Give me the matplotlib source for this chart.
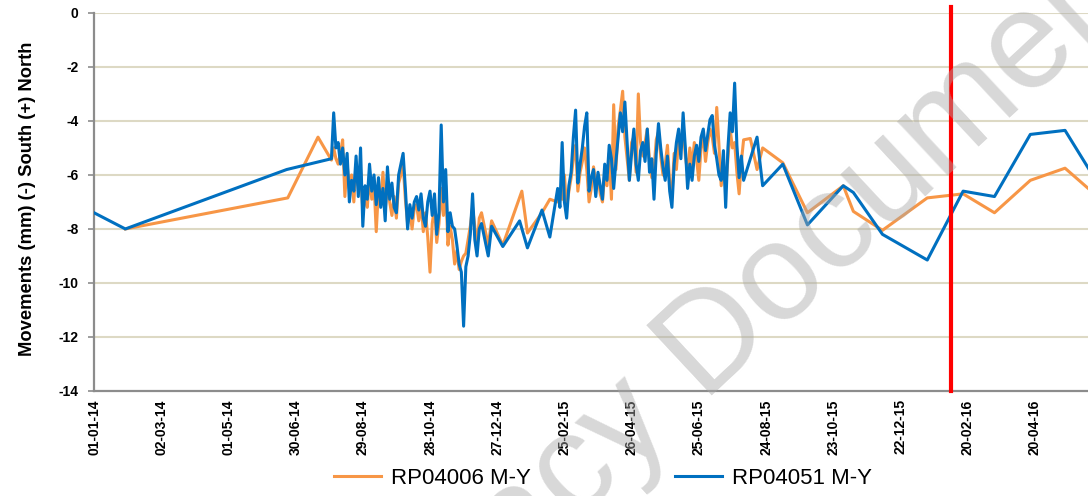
import numpy as np
import pandas as pd
import matplotlib
matplotlib.use("Agg")
import matplotlib.pyplot as plt

plt.rcParams['font.family'] = ['Liberation Sans', 'DejaVu Sans']
plt.rcParams['axes.unicode_minus'] = False

# x axis tick labels (every 60 days)
tick_labels = ['01-01-14', '02-03-14', '01-05-14', '30-06-14', '29-08-14', '28-10-14',
               '27-12-14', '25-02-15', '26-04-15', '25-06-15', '24-08-15', '23-10-15',
               '22-12-15', '20-02-16', '20-04-16']
y_ticks = [0, -2, -4, -6, -8, -10, -12, -14]
marker_date = '2016-02-05'   # red vertical line

# ---- RP04051 (blue) ----
blue_head_dates = ['2014-01-01', '2014-01-29', '2014-06-22']
blue_head_vals = [-7.4, -8.0, -5.8]
# readings every 2 days from 2014-08-01
blue_dense1 = [-5.4, -3.7, -5.0, -4.8, -5.6, -5.0, -6.0, -5.2, -7.0, -6.2,
               -6.6, -5.3, -6.8, -5.0, -7.9, -6.4, -6.9, -5.6, -6.6, -6.0,
               -7.1, -6.1, -7.2, -6.5, -7.7, -5.7, -6.9, -6.3, -7.2, -7.4,
               -6.0, -5.6, -5.2, -6.5, -8.0, -7.1, -7.6, -7.0, -6.8, -7.3,
               -6.7, -7.6, -7.9, -7.0, -6.6, -7.5, -6.7, -8.2, -7.4, -4.15,
               -7.0, -5.8, -8.1, -7.4, -7.9, -8.0, -8.6, -9.3, -9.6, -11.6,
               -9.4, -9.0, -8.2, -6.7, -8.4, -9.0, -8.0, -7.8]
blue_mid_dates = ['2014-12-19', '2014-12-22', '2015-01-01', '2015-01-16', '2015-01-23',
                  '2015-02-05', '2015-02-12']
blue_mid_vals = [-9.0, -7.9, -8.65, -7.7, -8.7, -7.3, -8.3]
# readings every 2 days from 2015-02-19
blue_dense2 = [-6.5, -7.2, -4.8, -7.0, -7.6, -6.4, -5.9, -4.6, -3.6, -6.3,
               -5.6, -5.0, -4.2, -3.7, -6.6, -6.1, -5.8, -6.8, -5.9, -6.4,
               -6.9, -5.6, -6.2, -4.9, -5.4, -6.5, -5.5, -4.6, -3.7, -4.4,
               -3.3, -4.8, -6.2, -5.2, -4.3, -5.6, -6.2, -5.1, -4.8, -5.5,
               -4.3, -5.9, -5.4, -6.9, -5.2, -4.1, -5.0, -5.7, -6.2, -5.3,
               -6.6, -7.2, -5.6, -4.8, -4.3, -5.4, -3.7, -5.0, -6.5, -5.6,
               -6.2, -5.3, -4.9, -5.5, -4.6, -4.3, -5.1, -4.5, -3.95, -3.8,
               -4.9, -5.4, -6.0, -6.2, -5.1, -7.2, -5.0, -3.7, -4.4, -2.6,
               -4.9, -6.1, -5.3, -6.2]
blue_tail_dates = ['2015-08-16', '2015-08-21', '2015-09-08', '2015-09-30', '2015-11-01',
                   '2015-11-10', '2015-12-06', '2016-01-15', '2016-02-16', '2016-03-15',
                   '2016-04-16', '2016-05-17', '2016-06-15']
blue_tail_vals = [-4.6, -6.4, -5.6, -7.85, -6.4, -6.65, -8.2, -9.15, -6.6, -6.8,
                  -4.5, -4.35, -6.3]

# ---- RP04006 (orange) ----
orange_head_dates = ['2014-01-29', '2014-06-23', '2014-07-20']
orange_head_vals = [-8.0, -6.85, -4.6]
orange_dense1 = [-5.45, -5.0, -5.4, -5.6, -5.2, -4.7, -6.8, -5.6, -6.5, -6.0,
                 -7.0, -5.6, -6.4, -5.8, -7.3, -6.8, -7.2, -6.0, -6.9, -6.3,
                 -8.1, -6.5, -7.0, -5.9, -7.3, -6.2, -7.0, -7.5, -6.8, -7.6,
                 -6.3, -6.0, -5.6, -6.9, -7.8, -7.3, -8.0, -7.2, -7.1, -7.7,
                 -7.0, -8.1, -7.4, -8.3, -9.6, -7.8, -7.2, -8.5, -7.8, -6.5,
                 -7.5, -6.4, -8.6, -7.9, -8.4, -9.3, -8.8, -9.5, -9.2, -9.0,
                 -8.9, -8.4, -7.9, -7.2, -7.9, -8.7, -7.6, -7.4]
orange_mid_dates = ['2014-12-19', '2014-12-22', '2015-01-01', '2015-01-18', '2015-01-23',
                    '2015-02-05', '2015-02-12']
orange_mid_vals = [-8.6, -7.7, -8.6, -6.6, -8.15, -7.4, -6.9]
orange_dense2 = [-7.0, -6.8, -6.9, -6.0, -7.2, -6.6, -6.1, -5.4, -4.9, -6.6,
                 -5.9, -5.5, -5.0, -5.8, -7.0, -6.5, -5.7, -6.3, -6.0, -6.7,
                 -7.0, -5.9, -6.4, -5.2, -6.9, -3.4, -5.8, -4.2, -3.6, -2.9,
                 -4.6, -5.4, -6.2, -4.8, -4.6, -5.9, -3.0, -4.8, -5.3, -4.8,
                 -4.3, -5.5, -6.1, -5.8, -4.7, -4.4, -5.3, -6.0, -5.6, -4.9,
                 -6.3, -6.8, -5.2, -5.8, -4.6, -5.0, -4.2, -5.3, -5.9, -5.0,
                 -5.7, -4.8, -5.4, -6.2, -5.0, -4.6, -5.5, -4.8, -4.3, -4.6,
                 -5.2, -3.5, -4.9, -6.4, -5.6, -6.5, -5.4, -4.3, -5.0, -4.8,
                 -5.9, -6.7, -5.5, -4.7]
orange_tail_dates = ['2015-08-10', '2015-08-16', '2015-08-21', '2015-09-08', '2015-09-30',
                     '2015-11-01', '2015-11-10', '2015-12-06', '2016-01-15', '2016-02-16',
                     '2016-03-15', '2016-04-16', '2016-05-17', '2016-06-15']
orange_tail_vals = [-4.65, -5.8, -5.0, -5.55, -7.4, -6.4, -7.35, -8.05, -6.85, -6.7,
                    -7.4, -6.2, -5.75, -6.8]


def build_series(head_d, head_v, dense1, mid_d, mid_v, dense2, tail_d, tail_v):
    d1 = pd.date_range('2014-08-01', periods=len(dense1), freq='2D')
    d2 = pd.date_range('2015-02-19', periods=len(dense2), freq='2D')
    dates = (list(pd.to_datetime(head_d)) + list(d1) + list(pd.to_datetime(mid_d))
             + list(d2) + list(pd.to_datetime(tail_d)))
    vals = list(head_v) + list(dense1) + list(mid_v) + list(dense2) + list(tail_v)
    return dates, vals


blue_x, blue_y = build_series(blue_head_dates, blue_head_vals, blue_dense1,
                              blue_mid_dates, blue_mid_vals, blue_dense2,
                              blue_tail_dates, blue_tail_vals)
orange_x, orange_y = build_series(orange_head_dates, orange_head_vals, orange_dense1,
                                  orange_mid_dates, orange_mid_vals, orange_dense2,
                                  orange_tail_dates, orange_tail_vals)

fig = plt.figure(figsize=(10.88, 4.96), dpi=100)
ax = fig.add_axes([0.0864, 0.2117, 0.9136, 0.7623])

grid_col = '#ddd9c4'
axis_col = '#8c8c8c'

for v in y_ticks[:-1]:
    ax.axhline(v, color=grid_col, lw=1.5, zorder=1)

ax.plot(orange_x, orange_y, color='#f79646', lw=2.2, zorder=3, label='RP04006 M-Y')
ax.plot(blue_x, blue_y, color='#0070c0', lw=2.2, zorder=4, label='RP04051 M-Y')

ax.plot([pd.Timestamp(marker_date)] * 2, [-14, 0.2], color='#ff0000', lw=3.0,
        zorder=5, clip_on=False)

x0 = pd.Timestamp('2014-01-01')
ax.set_xlim(x0, x0 + pd.Timedelta(days=887.5))
ax.set_ylim(-14, 0)

tick_dates = pd.to_datetime(tick_labels, format='%d-%m-%y')
ax.set_xticks(tick_dates)
ax.set_xticklabels(tick_labels, rotation=90, fontsize=10, fontweight='bold')
ax.set_yticks(y_ticks)
ax.set_yticklabels([str(v) for v in y_ticks], fontsize=10, fontweight='bold')
ax.tick_params(axis='x', length=0, pad=6)
ax.tick_params(axis='y', length=4, width=1.2, color=axis_col, pad=7)

for s in ['top', 'right']:
    ax.spines[s].set_visible(False)
for s in ['left', 'bottom']:
    ax.spines[s].set_color(axis_col)
    ax.spines[s].set_linewidth(1.6)

fig.text(0.025, 0.6, 'Movements (mm) (-) South (+) North', rotation=90,
         fontsize=13.2, fontweight='bold', ha='center', va='center')

fig.legend(loc='center', bbox_to_anchor=(0.554, 0.036), ncol=2, frameon=False,
           prop={'size': 16}, handlelength=2.1, handletextpad=0.45,
           columnspacing=6.5)

# watermark
fig.text(0.674, 0.341, 'Legacy Document', rotation=43, fontsize=100,
         color='#a8a8a8', alpha=0.45, ha='center', va='center',
         rotation_mode='anchor', zorder=10)

fig.savefig('out.png', dpi=100)
